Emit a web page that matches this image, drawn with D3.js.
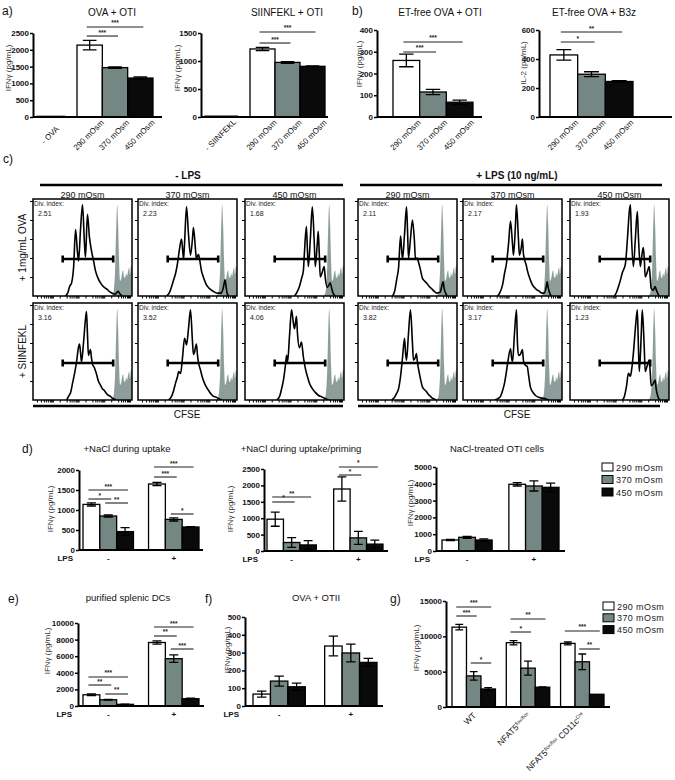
<!DOCTYPE html>
<html><head><meta charset="utf-8">
<script src="https://cdn.jsdelivr.net/npm/d3@7"></script>
<style>body{margin:0;background:#fff}svg{display:block}</style>
</head><body><svg id="c" width="675" height="780"></svg>
<script>
// ---------------- DATA ----------------
const osmLevels = ["290 mOsm", "370 mOsm", "450 mOsm"];
const osmFill = ["#ffffff", "#748782", "#0a0a0a"];

// a) OVA + OTI
const a1Control = "- OVA";
const a1Values = [20, 2140, 1470, 1160];
const a1Errors = [0, 140, 20, 30];
const a1Ticks = [0, 500, 1000, 1500, 2000, 2500];
const a1Sig = [[0, 1, 2410, "***"], [0, 2, 2680, "***"]];
// a) SIINFEKL + OTI
const a2Control = "- SIINFEKL";
const a2Values = [15, 1215, 975, 905];
const a2Errors = [0, 30, 15, 8];
const a2Ticks = [0, 500, 1000, 1500];
const a2Sig = [[0, 1, 1321, "***"], [0, 2, 1518, "***"]];
// b) ET-free OVA + OTI
const b1Values = [260, 115, 68];
const b1Errors = [29, 12, 10];
const b1Ticks = [0, 100, 200, 300, 400];
const b1Sig = [[0, 1, 299, "***"], [0, 2, 345, "***"]];
// b) ET-free OVA + B3z
const b2Values = [428, 295, 245];
const b2Errors = [36, 17, 6];
const b2Ticks = [0, 200, 400, 600];
const b2Sig = [[0, 1, 517, "*"], [0, 2, 586, "**"]];

// c) CFSE histograms  [CFSE position %, count %]
const cfseColumns = ["290 mOsm", "370 mOsm", "450 mOsm", "290 mOsm", "370 mOsm", "450 mOsm"];
const cfseRows = ["+ 1mg/mL OVA", "+ SIINFEKL"];
const divIndex = [["2.51", "2.23", "1.68", "2.11", "2.17", "1.93"],
                  ["3.16", "3.52", "4.06", "3.82", "3.17", "1.23"]];
const undividedHist = [[79,0],[81,3],[82,10],[83,30],[84,70],[85,96],[86,75],[87,35],[88,16],[89,18],[90,24],[91,27],[92,20],[93,19],[94,24],[95,21],[96,26],[97,30],[98,23],[99,32],[100,28]];
const histOVA = [
  [[33,0],[35,3],[37,10],[39,14],[41,30],[43,70],[45,45],[46,37],[48,70],[50,96],[52,55],[53,41],[55,86],[57,62],[59,48],[61,38],[63,27],[66,18],[68,14],[72,9],[75,7],[78,4],[80,3],[83,2],[85,4],[86,5],[88,2],[90,0]],
  [[29,0],[32,4],[34,10],[36,17],[38,24],[40,35],[42,50],[44,60],[46,39],[47,55],[49,94],[51,65],[53,43],[55,60],[56,72],[58,50],[59,39],[61,44],[62,40],[64,27],[66,20],[69,12],[72,8],[76,5],[80,3],[84,3],[86,8],[88,17],[89,10],[90,3],[92,0]],
  [[50,0],[52,3],[55,10],[57,18],[59,27],[60,45],[62,73],[63,50],[64,31],[66,60],[68,94],[70,55],[71,31],[73,55],[74,68],[75,45],[76,20],[78,25],[80,31],[81,20],[83,9],[85,12],[86,14],[88,6],[89,3],[91,0]],
  [[35,0],[37,5],[39,17],[41,30],[43,63],[44,50],[45,39],[47,65],[49,94],[50,70],[51,40],[53,60],[55,80],[57,58],[58,39],[60,40],[61,36],[63,28],[65,19],[67,16],[69,14],[72,10],[75,7],[78,4],[80,3],[83,4],[85,12],[86,15],[87,8],[89,2],[90,0]],
  [[35,0],[37,3],[40,12],[42,24],[44,35],[46,55],[48,79],[50,55],[51,43],[53,75],[54,96],[56,60],[57,43],[59,52],[60,60],[61,45],[62,39],[64,32],[65,27],[68,17],[70,12],[74,7],[77,5],[80,3],[82,3],[84,9],[85,15],[86,9],[88,2],[89,0]],
  [[45,0],[47,4],[49,10],[51,17],[53,25],[55,30],[56,34],[58,60],[60,90],[61,96],[62,65],[64,31],[66,60],[68,89],[69,65],[71,31],[72,38],[74,51],[75,40],[76,20],[78,25],[80,31],[81,20],[82,8],[84,6],[86,10],[87,7],[89,2],[90,0]]
];
const histSIINFEKL = [
  [[34,0],[36,4],[38,8],[40,18],[42,28],[44,40],[46,56],[47,59],[48,50],[49,40],[51,60],[53,85],[54,93],[55,70],[56,47],[57,50],[58,53],[59,45],[60,38],[62,34],[63,31],[64,28],[66,20],[68,16],[70,12],[72,10],[74,7],[76,5],[78,4],[80,2],[82,1],[84,0]],
  [[31,0],[34,4],[36,10],[38,18],[40,25],[41,30],[43,28],[45,45],[47,65],[48,62],[49,58],[51,75],[53,95],[55,62],[56,48],[57,50],[59,59],[60,48],[61,40],[63,32],[65,24],[67,18],[70,12],[72,9],[74,6],[76,4],[79,3],[82,1],[85,0]],
  [[32,0],[35,4],[37,12],[39,22],[41,38],[42,47],[43,40],[45,68],[47,95],[49,80],[50,75],[52,88],[53,70],[55,55],[57,61],[59,45],[61,33],[63,25],[65,18],[68,12],[71,8],[74,5],[78,3],[82,1],[85,0]],
  [[34,0],[37,3],[39,7],[41,12],[43,25],[45,45],[47,65],[48,50],[49,42],[51,70],[53,95],[55,60],[56,42],[58,45],[59,49],[60,40],[62,28],[64,18],[65,14],[67,11],[69,9],[71,6],[73,4],[75,2],[77,1],[79,0]],
  [[32,0],[36,2],[38,4],[40,10],[42,18],[43,24],[45,38],[48,54],[49,45],[50,40],[52,70],[54,95],[55,60],[56,47],[58,48],[60,53],[61,42],[62,38],[64,36],[65,35],[66,28],[68,14],[70,9],[73,5],[76,3],[80,2],[84,1],[87,0]],
  [[53,0],[55,4],[57,14],[59,28],[61,25],[62,30],[64,49],[66,75],[68,95],[69,60],[70,30],[72,70],[73,95],[75,55],[76,30],[78,36],[80,42],[81,30],[82,15],[84,17],[86,21],[87,12],[89,3],[91,0]]
];
const gateRange = [30, 81];
const gateLevel = 39;
const cfseBottomTicks = [4,8,11,13,15,17,18,19,20,27,34,37,39,41,43,44,45,46,53,60,63,65,67,69,70,71,72,79,86,89,91,93,95,96,97,98];
const cfseLeftTicks = [20, 40, 60, 80, 100];

// d) grouped by LPS
const lpsGroups = ["-", "+"];
const d1Values = [[1140, 850, 460], [1650, 765, 575]];
const d1Errors = [[40, 25, 100], [40, 40, 10]];
const d1Ticks = [0, 500, 1000, 1500, 2000];
const d1Sig = [[0,0,1,1275,"*"],[0,0,2,1500,"***"],[0,1,2,1175,"**"],[1,0,1,1825,"***"],[1,0,2,2075,"***"],[1,1,2,900,"*"]];
const d2Values = [[970, 260, 185], [1890, 400, 210]];
const d2Errors = [[215, 150, 130], [370, 200, 120]];
const d2Ticks = [0, 500, 1000, 1500, 2000, 2500];
const d2Sig = [[0,0,1,1494,"*"],[0,0,2,1646,"**"],[1,0,1,2317,"*"],[1,0,2,2561,"*"]];
const d3Values = [[655, 815, 655], [3970, 3870, 3790]];
const d3Errors = [[40, 60, 70], [100, 300, 250]];
const d3Ticks = [0, 1000, 2000, 3000, 4000, 5000];
// e) purified splenic DCs
const eValues = [[1350, 750, 200], [7650, 5700, 880]];
const eErrors = [[100, 50, 30], [200, 450, 80]];
const eTicks = [0, 2000, 4000, 6000, 8000, 10000];
const eSig = [[0,0,1,2530,"**"],[0,0,2,3494,"***"],[0,1,2,1446,"**"],[1,0,1,8434,"**"],[1,0,2,9518,"***"],[1,1,2,6867,"***"]];
// f) OVA + OTII
const fValues = [[67, 140, 108], [337, 298, 245]];
const fErrors = [[17, 28, 20], [55, 50, 22]];
const fTicks = [0, 100, 200, 300, 400, 500];
// g) genotypes
const gGroups = ["WT", "NFAT5flox/flox", "NFAT5flox/flox CD11cCre"];
const gValues = [[11300, 4400, 2550], [9100, 5500, 2800], [9000, 6400, 1800]];
const gErrors = [[400, 600, 200], [300, 1000, 60], [200, 1100, 0]];
const gTicks = [0, 5000, 10000, 15000];
const gSig = [[0,0,2,14151,"***"],[0,0,1,12877,"***"],[0,1,2,6226,"*"],[1,0,2,12453,"**"],[1,0,1,10613,"*"],[2,0,2,10755,"***"],[2,1,2,8208,"**"]];

// ---------------- DRAWING ----------------
const FONT = '"Liberation Sans", Arial, Helvetica, sans-serif';
const svg = d3.select("#c").attr("font-family", FONT);
svg.append("rect").attr("width", 675).attr("height", 780).attr("fill", "#fff");

function txt(x, y, s, o = {}) {
  const t = svg.append("text").attr("x", x).attr("y", y).text(s)
    .attr("font-size", o.size || 9).attr("fill", o.fill || "#111");
  if (o.anchor) t.attr("text-anchor", o.anchor);
  if (o.weight) t.attr("font-weight", o.weight);
  return t;
}
function ylab(x, yc, s) {
  svg.append("text").attr("transform", `translate(${x},${yc}) rotate(-90)`)
    .attr("text-anchor", "middle").attr("dy", "0.35em").attr("font-size", 8).attr("fill", "#333").text(s);
}
function yAxis(g, ax, y, ticks) {
  const a = g.append("g").attr("transform", `translate(${ax},0)`)
    .call(d3.axisLeft(y).tickValues(ticks).tickSize(3).tickSizeOuter(0).tickPadding(1).tickFormat(d3.format("d")));
  a.select(".domain").attr("stroke-width", 2).attr("stroke", "#000");
  a.selectAll(".tick line").attr("stroke-width", 1.5).attr("stroke", "#000");
  a.selectAll(".tick text").attr("font-size", 8).attr("font-weight", "bold").attr("fill", "#111").attr("font-family", FONT);
}
function bar(g, x, w, y, v, e, fill) {
  g.append("rect").attr("x", x).attr("y", y(v)).attr("width", w).attr("height", y(0) - y(v))
    .attr("fill", fill).attr("stroke", "#000").attr("stroke-width", 1.3);
  if (e > 0) {
    const cx = x + w / 2, cw = w * 0.27;
    g.append("path").attr("d", `M${cx - cw},${y(v + e)}H${cx + cw}M${cx},${y(v + e)}V${y(Math.max(0, v - e))}M${cx - cw},${y(Math.max(0, v - e))}H${cx + cw}`)
      .attr("stroke", "#000").attr("stroke-width", 1.3).attr("fill", "none");
  }
}
function sig(g, x1, x2, yy, label) {
  g.append("line").attr("x1", x1 - 3).attr("x2", x2 + 3).attr("y1", yy).attr("y2", yy).attr("stroke", "#222").attr("stroke-width", 1.1);
  g.append("text").attr("x", (x1 + x2) / 2).attr("y", yy - 1.5).attr("text-anchor", "middle")
    .attr("font-size", 6.5).attr("font-weight", "bold").attr("fill", "#222").text(label);
}

function simpleChart(c) {
  const g = svg.append("g");
  const y = d3.scaleLinear().domain([0, c.ticks[c.ticks.length - 1]]).range([c.y0, c.yTop]);
  const osm = d3.scaleBand().domain(osmLevels).range(c.osmRange).padding(0);
  const bw = osm.bandwidth();
  const items = [];
  const off = c.ctrl ? 1 : 0;
  if (c.ctrl) items.push({ label: c.ctrl, x: c.ax + 4, w: bw * c.ctrlW, v: c.values[0], e: c.errors[0], fill: "#fff" });
  osmLevels.forEach((k, i) => items.push({ label: k, x: osm(k), w: bw, v: c.values[i + off], e: c.errors[i + off], fill: osmFill[i] }));
  items.forEach(d => bar(g, d.x, d.w, y, d.v, d.e, d.fill));
  g.append("line").attr("x1", c.ax).attr("x2", c.axEnd).attr("y1", c.y0).attr("y2", c.y0).attr("stroke", "#000").attr("stroke-width", 2);
  yAxis(g, c.ax, y, c.ticks);
  c.sig.forEach(s => sig(g, osm(osmLevels[s[0]]) + bw / 2, osm(osmLevels[s[1]]) + bw / 2, y(s[2]), s[3]));
  items.forEach(d => {
    g.append("text").attr("transform", `translate(${d.x + d.w / 2 - 1},${c.y0 + 18}) rotate(-45)`)
      .attr("text-anchor", "middle").attr("dy", "0.35em").attr("font-size", 8).attr("fill", "#111").text(d.label);
  });
  txt(c.titleX, 16, c.title, { size: 10, anchor: "middle" });
  ylab(c.ylabX, c.ylabY, c.ylab);
}

function groupedChart(c) {
  const g = svg.append("g");
  const y = d3.scaleLinear().domain([0, c.ticks[c.ticks.length - 1]]).range([c.y0, c.yTop]);
  const grp = d3.scaleBand().domain(c.groups).range(c.range).paddingInner(c.pad).paddingOuter(0);
  const osm = d3.scaleBand().domain(osmLevels).range([0, grp.bandwidth()]).padding(0);
  const bw = osm.bandwidth();
  c.groups.forEach((gname, gi) => {
    osmLevels.forEach((k, i) => bar(g, grp(gname) + osm(k), bw, y, c.values[gi][i], c.errors[gi][i], osmFill[i]));
  });
  g.append("line").attr("x1", c.ax).attr("x2", c.axEnd).attr("y1", c.y0).attr("y2", c.y0).attr("stroke", "#000").attr("stroke-width", 2);
  yAxis(g, c.ax, y, c.ticks);
  (c.sig || []).forEach(s => {
    const gx = grp(c.groups[s[0]]);
    sig(g, gx + osm(osmLevels[s[1]]) + bw / 2, gx + osm(osmLevels[s[2]]) + bw / 2, y(s[3]), s[4]);
  });
  if (c.lps) {
    txt(c.ax - 6, c.y0 + 11, "LPS", { size: 8, weight: "bold", anchor: "end" });
    c.groups.forEach(gname => txt(grp(gname) + grp.bandwidth() / 2, c.y0 + 11, gname, { size: 8, weight: "bold", anchor: "middle" }));
  }
  if (c.rotLabels) {
    c.groups.forEach((gname, gi) => {
      const t = g.append("text").attr("transform", `translate(${grp(gname) + grp.bandwidth() / 2 + 3},${c.y0 + 9}) rotate(-45)`)
        .attr("text-anchor", "end").attr("font-size", 8.5).attr("fill", "#111");
      c.rotLabels[gi].forEach(p => {
        const ts = t.append("tspan").text(p[0]);
        if (p[1] === "sup") ts.attr("font-size", 5).attr("baseline-shift", "super");
      });
    });
  }
  if (c.title) txt(c.titleX, c.titleY, c.title, { size: 9.5, anchor: "middle" });
  ylab(c.ylabX, c.ylabY, c.ylab);
}

function legend(x, y0, step) {
  osmLevels.forEach((k, i) => {
    svg.append("rect").attr("x", x).attr("y", y0 + i * step - 4).attr("width", 11).attr("height", 8)
      .attr("fill", osmFill[i]).attr("stroke", "#000").attr("stroke-width", 1);
    txt(x + 14, y0 + i * step + 3.5, k, { size: 9, fill: "#222" }).attr("letter-spacing", 0.4);
  });
}

// ---- panel a ----
txt(2, 15, "a)", { size: 12 });
simpleChart({ ax: 33, axEnd: 162, yTop: 33, y0: 117, ticks: a1Ticks, values: a1Values, errors: a1Errors,
  ctrl: a1Control, ctrlW: 1.1, osmRange: [77, 153], sig: a1Sig, title: "OVA + OTI", titleX: 112,
  ylab: "IFNγ (pg/mL)", ylabX: 8, ylabY: 68 });
simpleChart({ ax: 201, axEnd: 328, yTop: 33, y0: 117, ticks: a2Ticks, values: a2Values, errors: a2Errors,
  ctrl: a2Control, ctrlW: 1.3, osmRange: [250, 325], sig: a2Sig, title: "SIINFEKL + OTI", titleX: 287,
  ylab: "IFNγ (pg/mL)", ylabX: 177, ylabY: 68 });
// ---- panel b ----
txt(352, 15, "b)", { size: 12 });
simpleChart({ ax: 377, axEnd: 482, yTop: 30, y0: 117, ticks: b1Ticks, values: b1Values, errors: b1Errors,
  osmRange: [393, 473], sig: b1Sig, title: "ET-free OVA + OTI", titleX: 440,
  ylab: "IFNγ (pg/mL)", ylabX: 359, ylabY: 64 });
simpleChart({ ax: 539, axEnd: 672, yTop: 30, y0: 117, ticks: b2Ticks, values: b2Values, errors: b2Errors,
  osmRange: [550, 633], sig: b2Sig, title: "ET-free OVA + B3z", titleX: 594,
  ylab: "IL-2 (pg/mL)", ylabX: 523, ylabY: 63 });

// ---- panel c ----
txt(3, 163, "c)", { size: 12 });
const colX = [33, 138, 245, 358, 463, 570];
const rowY = [199, 303];
const boxW = 99, boxH = 97;
txt(188, 179, "- LPS", { size: 10, weight: "bold", anchor: "middle" });
txt(517, 179, "+ LPS (10 ng/mL)", { size: 10, weight: "bold", anchor: "middle" });
[[40, 343], [360, 662]].forEach(r => svg.append("line").attr("x1", r[0]).attr("x2", r[1]).attr("y1", 185).attr("y2", 185).attr("stroke", "#000").attr("stroke-width", 2.5));
[[33, 343], [358, 660]].forEach(r => svg.append("line").attr("x1", r[0]).attr("x2", r[1]).attr("y1", 406).attr("y2", 406).attr("stroke", "#000").attr("stroke-width", 2.5));
txt(187, 418, "CFSE", { size: 10, anchor: "middle" });
txt(517, 418, "CFSE", { size: 10, anchor: "middle" });
cfseRows.forEach((r, ri) => {
  svg.append("text").attr("transform", `translate(22,${rowY[ri] + boxH / 2}) rotate(-90)`)
    .attr("text-anchor", "middle").attr("dy", "0.35em").attr("font-size", 10).attr("fill", "#111").text(r);
});
cfseColumns.forEach((cname, ci) => txt(colX[ci] + boxW / 2, 198, cname, { size: 9, anchor: "middle" }));

function histBox(bx, by, data, div, id) {
  const g = svg.append("g");
  const x = d3.scaleLinear().domain([0, 100]).range([bx, bx + boxW]);
  const y = d3.scaleLinear().domain([0, 100]).range([by + boxH, by + 2]);
  svg.append("clipPath").attr("id", id).append("rect").attr("x", bx).attr("y", by).attr("width", boxW).attr("height", boxH);
  const inner = g.append("g").attr("clip-path", `url(#${id})`);
  const closed = undividedHist.concat([[100, 0]]);
  inner.append("path").attr("d", d3.area().x(d => x(d[0])).y0(y(0)).y1(d => y(d[1])).curve(d3.curveMonotoneX)(closed))
    .attr("fill", "#8d9e9a");
  inner.append("path").attr("d", d3.line().x(d => x(d[0])).y(d => y(d[1])).curve(d3.curveMonotoneX)(data))
    .attr("fill", "none").attr("stroke", "#000").attr("stroke-width", 1.6);
  const gy = y(gateLevel);
  g.append("path").attr("d", `M${x(gateRange[0])},${gy}H${x(gateRange[1])}M${x(gateRange[0])},${gy - 3.5}V${gy + 3.5}M${x(gateRange[1])},${gy - 3.5}V${gy + 3.5}`)
    .attr("stroke", "#000").attr("stroke-width", 2.6).attr("fill", "none");
  g.append("rect").attr("x", bx).attr("y", by).attr("width", boxW).attr("height", boxH).attr("fill", "none").attr("stroke", "#000").attr("stroke-width", 1.5);
  const la = g.append("g").attr("transform", `translate(${bx},0)`).call(d3.axisLeft(y).tickValues(cfseLeftTicks).tickSize(3).tickFormat(""));
  la.select(".domain").remove();
  const ba = g.append("g").attr("transform", `translate(0,${by + boxH})`).call(d3.axisBottom(x).tickValues(cfseBottomTicks).tickSize(2.5).tickFormat(""));
  ba.select(".domain").remove();
  g.append("text").attr("x", bx + 1).attr("y", by + 7).attr("font-size", 6.5).attr("fill", "#222").text("Div. index:");
  g.append("text").attr("x", bx + 5).attr("y", by + 17).attr("font-size", 7).attr("fill", "#222").text(div);
}
[histOVA, histSIINFEKL].forEach((row, ri) => row.forEach((h, ci) => histBox(colX[ci], rowY[ri], h, divIndex[ri][ci], `clip${ri}${ci}`)));

// ---- panel d ----
txt(22, 453, "d)", { size: 12 });
groupedChart({ ax: 79, axEnd: 203, yTop: 470, y0: 550, ticks: d1Ticks, groups: lpsGroups, range: [83, 199], pad: 0.23,
  values: d1Values, errors: d1Errors, sig: d1Sig, lps: true, title: "+NaCl during uptake", titleX: 127, titleY: 452,
  ylab: "IFNγ (pg/mL)", ylabX: 50, ylabY: 509 });
groupedChart({ ax: 264, axEnd: 388, yTop: 469, y0: 551, ticks: d2Ticks, groups: lpsGroups, range: [267, 383], pad: 0.26,
  values: d2Values, errors: d2Errors, sig: d2Sig, lps: true, title: "+NaCl during uptake/priming", titleX: 301, titleY: 452,
  ylab: "IFNγ (pg/mL)", ylabX: 230, ylabY: 509 });
groupedChart({ ax: 436, axEnd: 565, yTop: 467, y0: 551, ticks: d3Ticks, groups: lpsGroups, range: [442, 559], pad: 0.25,
  values: d3Values, errors: d3Errors, sig: [], lps: true, title: "NaCl-treated OTI cells", titleX: 497, titleY: 452,
  ylab: "IFNγ (pg/mL)", ylabX: 410, ylabY: 503 });
legend(602, 467, 12.5);

// ---- panel e / f ----
txt(8, 603, "e)", { size: 12 });
groupedChart({ ax: 78, axEnd: 204, yTop: 623, y0: 706, ticks: eTicks, groups: lpsGroups, range: [83, 199], pad: 0.23,
  values: eValues, errors: eErrors, sig: eSig, lps: true, title: "purified splenic DCs", titleX: 128, titleY: 601,
  ylab: "IFNγ (pg/mL)", ylabX: 47, ylabY: 651 });
txt(205, 603, "f)", { size: 12 });
groupedChart({ ax: 245, axEnd: 383, yTop: 617, y0: 706, ticks: fTicks, groups: lpsGroups, range: [253, 377], pad: 0.27,
  values: fValues, errors: fErrors, sig: [], lps: true, title: "OVA + OTII", titleX: 316, titleY: 601,
  ylab: "IFNγ (pg/mL)", ylabX: 227, ylabY: 650 });

// ---- panel g ----
txt(390, 603, "g)", { size: 12 });
groupedChart({ ax: 446, axEnd: 610, yTop: 601, y0: 707, ticks: gTicks, groups: gGroups, range: [452, 604], pad: 0.2,
  values: gValues, errors: gErrors, sig: gSig, lps: false,
  rotLabels: [[["WT"]], [["NFAT5"], ["flox/flox", "sup"]], [["NFAT5"], ["flox/flox", "sup"], [" CD11c"], ["Cre", "sup"]]],
  ylab: "IFNγ (pg/mL)", ylabX: 416, ylabY: 648 });
legend(603, 606, 11.8);
</script></body></html>
